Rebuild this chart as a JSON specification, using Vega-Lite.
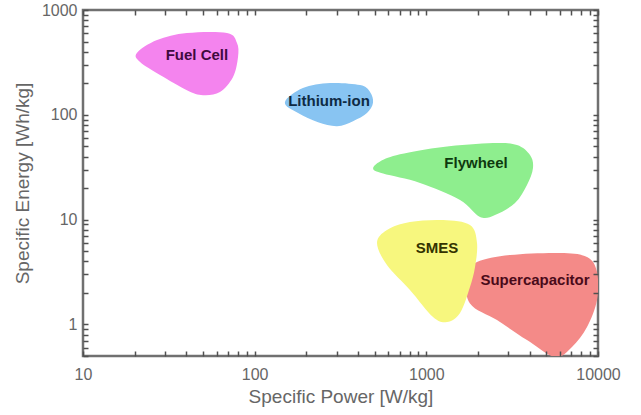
{
  "$schema": "https://vega.github.io/schema/vega-lite/v6.json",
  "width": 515,
  "height": 346,
  "autosize": {"type": "none"},
  "padding": {"left": 83, "top": 10, "right": 43, "bottom": 59},
  "background": "white",
  "config": {
    "view": {"stroke": "#707070", "strokeWidth": 2.5},
    "axis": {
      "labelFont": "Liberation Sans",
      "titleFont": "Liberation Sans",
      "labelFontSize": 16,
      "titleFontSize": 19,
      "labelColor": "#666",
      "titleColor": "#666",
      "titleFontWeight": "normal",
      "domain": false,
      "grid": false,
      "labelOverlap": false,
      "labelFlush": false
    }
  },
  "datasets": {
    "blobs": [
      {"g": "a", "i": 1, "x": 20.6, "y": 389},
      {"g": "a", "i": 2, "x": 27.0, "y": 517},
      {"g": "a", "i": 3, "x": 40.3, "y": 603},
      {"g": "a", "i": 4, "x": 69.0, "y": 603},
      {"g": "a", "i": 5, "x": 78.9, "y": 484},
      {"g": "a", "i": 6, "x": 80.0, "y": 356},
      {"g": "a", "i": 7, "x": 74.8, "y": 229},
      {"g": "a", "i": 8, "x": 62.8, "y": 165},
      {"g": "a", "i": 9, "x": 50.0, "y": 154},
      {"g": "a", "i": 10, "x": 40.3, "y": 172},
      {"g": "a", "i": 11, "x": 28.1, "y": 240},
      {"g": "a", "i": 12, "x": 21.5, "y": 319},
      {"g": "b", "i": 1, "x": 150, "y": 132},
      {"g": "b", "i": 2, "x": 191, "y": 180},
      {"g": "b", "i": 3, "x": 275, "y": 201},
      {"g": "b", "i": 4, "x": 411, "y": 192},
      {"g": "b", "i": 5, "x": 470, "y": 165},
      {"g": "b", "i": 6, "x": 489, "y": 130},
      {"g": "b", "i": 7, "x": 451, "y": 104},
      {"g": "b", "i": 8, "x": 374, "y": 87},
      {"g": "b", "i": 9, "x": 302, "y": 78},
      {"g": "b", "i": 10, "x": 234, "y": 85},
      {"g": "b", "i": 11, "x": 179, "y": 104},
      {"g": "c", "i": 1, "x": 490, "y": 30.5},
      {"g": "c", "i": 2, "x": 540, "y": 36},
      {"g": "c", "i": 3, "x": 702, "y": 42},
      {"g": "c", "i": 4, "x": 1251, "y": 49.3},
      {"g": "c", "i": 5, "x": 2445, "y": 53.8},
      {"g": "c", "i": 6, "x": 3374, "y": 51.5},
      {"g": "c", "i": 7, "x": 4017, "y": 41.3},
      {"g": "c", "i": 8, "x": 4181, "y": 31.1},
      {"g": "c", "i": 9, "x": 3858, "y": 21.4},
      {"g": "c", "i": 10, "x": 3285, "y": 14.4},
      {"g": "c", "i": 11, "x": 2512, "y": 11.07},
      {"g": "c", "i": 12, "x": 2054, "y": 10.6},
      {"g": "c", "i": 13, "x": 1571, "y": 15.4},
      {"g": "c", "i": 14, "x": 919, "y": 22.4},
      {"g": "c", "i": 15, "x": 560, "y": 27.5},
      {"g": "d", "i": 1, "x": 1973, "y": 3.94},
      {"g": "d", "i": 2, "x": 3072, "y": 4.59},
      {"g": "d", "i": 3, "x": 6006, "y": 4.80},
      {"g": "d", "i": 4, "x": 8630, "y": 4.40},
      {"g": "d", "i": 5, "x": 9867, "y": 3.16},
      {"g": "d", "i": 6, "x": 9867, "y": 1.71},
      {"g": "d", "i": 7, "x": 8630, "y": 0.944},
      {"g": "d", "i": 8, "x": 7055, "y": 0.609},
      {"g": "d", "i": 9, "x": 5616, "y": 0.489},
      {"g": "d", "i": 10, "x": 3858, "y": 0.710},
      {"g": "d", "i": 11, "x": 2580, "y": 1.10},
      {"g": "d", "i": 12, "x": 1796, "y": 1.586},
      {"g": "d", "i": 13, "x": 1702, "y": 2.96},
      {"g": "e", "i": 1, "x": 516, "y": 5.98},
      {"g": "e", "i": 2, "x": 590, "y": 7.96},
      {"g": "e", "i": 3, "x": 803, "y": 9.49},
      {"g": "e", "i": 4, "x": 1251, "y": 9.91},
      {"g": "e", "i": 5, "x": 1796, "y": 8.88},
      {"g": "e", "i": 6, "x": 1973, "y": 5.98},
      {"g": "e", "i": 7, "x": 1921, "y": 3.53},
      {"g": "e", "i": 8, "x": 1796, "y": 2.275},
      {"g": "e", "i": 9, "x": 1571, "y": 1.285},
      {"g": "e", "i": 10, "x": 1320, "y": 1.054},
      {"g": "e", "i": 11, "x": 1094, "y": 1.177},
      {"g": "e", "i": 12, "x": 803, "y": 2.129},
      {"g": "e", "i": 13, "x": 590, "y": 3.69}
    ],
    "labels": [
      {"name": "Fuel Cell", "x": 46.1, "y": 372, "tc": "#3f0a3f"},
      {"name": "Lithium-ion", "x": 271, "y": 135, "tc": "#0e2a44"},
      {"name": "Flywheel", "x": 1947, "y": 34.7, "tc": "#0f3a0f"},
      {"name": "SMES", "x": 1154, "y": 5.36, "tc": "#333300"},
      {"name": "Supercapacitor", "x": 4295, "y": 2.65, "tc": "#4a0a1a"}
    ]
  },
  "layer": [
    {
      "data": {"name": "blobs"},
      "mark": {"type": "line", "filled": true, "interpolate": "cardinal-closed", "clip": true, "strokeWidth": 0},
      "encoding": {
        "x": {
          "field": "x", "type": "quantitative",
          "scale": {"type": "log", "domain": [10, 10000], "nice": false},
          "axis": {
            "orient": "bottom",
            "values": [10,20,30,40,50,60,70,80,90,100,200,300,400,500,600,700,800,900,1000,2000,3000,4000,5000,6000,7000,8000,9000,10000],
            "format": "d",
            "labelExpr": "indexof([10,100,1000,10000], datum.value) >= 0 ? datum.label : ''",
            "ticks": true,
            "tickSize": 5,
            "tickColor": "#505050",
            "tickWidth": 1.5,
            "tickOpacity": 1,
            "offset": -5,
            "zindex": 2,
            "labelPadding": 10,
            "title": "Specific Power [W/kg]",
            "titlePadding": 5
          }
        },
        "y": {
          "field": "y", "type": "quantitative",
          "scale": {"type": "log", "domain": [0.5, 1000], "nice": false},
          "axis": {
            "orient": "left",
            "values": [0.5,0.6,0.7,0.8,0.9,1,2,3,4,5,6,7,8,9,10,20,30,40,50,60,70,80,90,100,200,300,400,500,600,700,800,900,1000],
            "format": "d",
            "labelExpr": "indexof([1,10,100,1000], datum.value) >= 0 ? datum.label : ''",
            "ticks": true,
            "tickSize": 5,
            "tickColor": "#505050",
            "tickWidth": 1.5,
            "tickOpacity": 1,
            "offset": -5,
            "zindex": 2,
            "labelPadding": 6,
            "title": "Specific Energy [Wh/kg]",
            "titlePadding": 9
          }
        },
        "color": {
          "field": "g", "type": "nominal",
          "scale": {"domain": ["a","b","c","d","e"], "range": ["#f484ee","#88c4f2","#8eee8e","#f48a88","#f7f77e"]},
          "legend": null
        },
        "order": {"field": "i", "type": "quantitative"}
      }
    },
    {
      "data": {"name": "labels"},
      "mark": {"type": "text", "font": "Liberation Sans", "fontWeight": "bold", "fontSize": 15},
      "encoding": {
        "x": {
          "field": "x", "type": "quantitative",
          "scale": {"type": "log", "domain": [10, 10000], "nice": false},
          "axis": {
            "orient": "top",
            "values": [10,20,30,40,50,60,70,80,90,100,200,300,400,500,600,700,800,900,1000,2000,3000,4000,5000,6000,7000,8000,9000,10000],
            "labels": false,
            "ticks": true,
            "tickSize": 5,
            "tickColor": "#505050",
            "tickWidth": 1.5,
            "tickOpacity": 1,
            "offset": -5,
            "zindex": 2,
            "title": null
          }
        },
        "y": {
          "field": "y", "type": "quantitative",
          "scale": {"type": "log", "domain": [0.5, 1000], "nice": false},
          "axis": {
            "orient": "right",
            "values": [0.5,0.6,0.7,0.8,0.9,1,2,3,4,5,6,7,8,9,10,20,30,40,50,60,70,80,90,100,200,300,400,500,600,700,800,900,1000],
            "labels": false,
            "ticks": true,
            "tickSize": 5,
            "tickColor": "#505050",
            "tickWidth": 1.5,
            "tickOpacity": 1,
            "offset": -5,
            "zindex": 2,
            "title": null
          }
        },
        "text": {"field": "name"},
        "color": {"field": "tc", "type": "nominal", "scale": null}
      }
    }
  ],
  "resolve": {"axis": {"x": "independent", "y": "independent"}, "scale": {"color": "independent"}}
}
